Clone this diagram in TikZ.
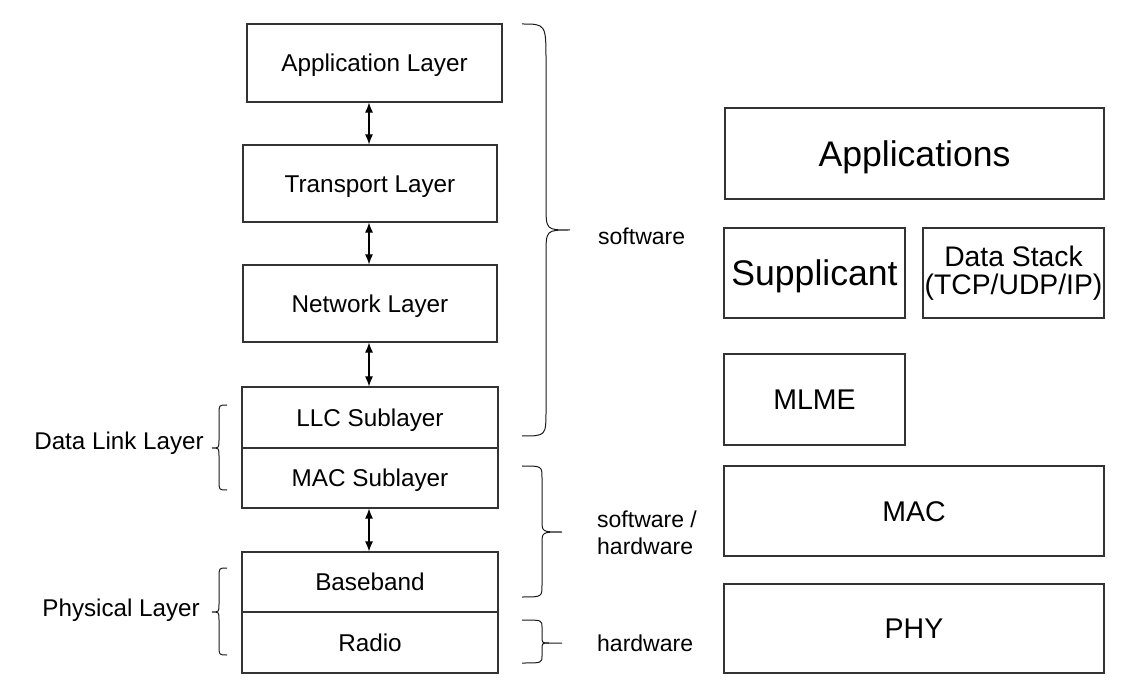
\documentclass[tikz,border=0pt]{standalone}
\usepackage{fontspec}
\setmainfont{Liberation Sans}
\usetikzlibrary{arrows.meta}
\begin{document}
\begin{tikzpicture}[x=1pt,y=-1pt,
  box/.style={draw=black!80,line width=1.2pt,inner sep=0pt,align=center},
  small/.style={font=\fontsize{24.3}{28}\selectfont,text height=17.4pt,text depth=0pt},
  mid/.style={font=\fontsize{28.3}{28.5}\selectfont},
  midc/.style={font=\fontsize{28.5}{28.5}\selectfont,text height=20.4pt,text depth=0pt},
  big/.style={font=\fontsize{35.6}{40}\selectfont,text height=25.5pt,text depth=0pt},
  lbl/.style={inner sep=0pt,align=left,font=\fontsize{23}{27}\selectfont},
  sidel/.style={inner sep=0pt,font=\fontsize{24.2}{28}\selectfont},
  arr/.style={line width=1.1pt,{Latex[length=10pt,width=8pt]}-{Latex[length=10pt,width=8pt]}},
  bracepath/.style={line width=1pt,draw=black!90}]
\useasboundingbox (0,0) rectangle (1141,700);
% left stack
\node[box,small,minimum width=255pt,minimum height=78pt] (app) at (374.5,63) {Application Layer};
\node[box,small,minimum width=254pt,minimum height=77pt] (tr) at (370,183.5) {Transport Layer};
\node[box,small,minimum width=254pt,minimum height=77pt] (net) at (370,303.5) {Network Layer};
\node[box,small,minimum width=256pt,minimum height=61pt] (llc) at (370,417.5) {LLC Sublayer};
\node[box,small,minimum width=256pt,minimum height=60pt] (mac) at (370,478) {MAC Sublayer};
\node[box,small,minimum width=256pt,minimum height=60pt] (bb) at (370,582) {Baseband};
\node[box,small,minimum width=256pt,minimum height=61pt] (radio) at (370,642.5) {Radio};
\coordinate (ax) at (369,0);
\draw[arr] (app.south -| ax) -- (tr.north -| ax);
\draw[arr] (tr.south -| ax) -- (net.north -| ax);
\draw[arr] (net.south -| ax) -- (llc.north -| ax);
\draw[arr] (mac.south -| ax) -- (bb.north -| ax);
% right stack
\node[box,big,minimum width=379pt,minimum height=91pt] (apps) at (914.5,153.5) {Applications};
\node[box,big,minimum width=181pt,minimum height=90pt] (supp) at (814.5,273) {Supplicant};
\node[box,mid,minimum width=181pt,minimum height=90pt] (ds) at (1013.5,273) {Data Stack\\(TCP/UDP/IP)};
\node[box,midc,minimum width=181pt,minimum height=91pt] (mlme) at (814.5,399.5) {MLME};
\node[box,midc,minimum width=380pt,minimum height=90pt] (macr) at (914,511) {MAC};
\node[box,midc,minimum width=380pt,minimum height=89pt] (phy) at (914,628.5) {PHY};
% braces right
\draw[bracepath] (522,24) .. controls (546,24) .. (546,62) -- (546,205) .. controls (546,230) .. (570,230)
  .. controls (546,230) .. (546,255) -- (546,410) .. controls (546,436) .. (522,436);
\draw[bracepath] (522,466) .. controls (542,466) .. (542,478) -- (542,520) .. controls (542,532) .. (562,532)
  .. controls (542,532) .. (542,544) -- (542,585) .. controls (542,597) .. (522,597);
\draw[bracepath] (522,620) .. controls (542,620) .. (542,627) -- (542,636) .. controls (542,643) .. (549,643) -- (562,643);
\draw[bracepath] (549,643) .. controls (542,643) .. (542,650) -- (542,656) .. controls (542,663) .. (522,663);
% braces left
\draw[bracepath] (227,405) .. controls (219,405) .. (219,414) -- (219,440) .. controls (219,448) .. (212,448)
  .. controls (219,448) .. (219,456) -- (219,481) .. controls (219,490) .. (227,490);
\draw[bracepath] (227,568) .. controls (219,568) .. (219,577) -- (219,604) .. controls (219,612) .. (212,612)
  .. controls (219,612) .. (219,620) -- (219,646) .. controls (219,655) .. (227,655);
% labels
\node[sidel,anchor=east] (dll) at (204,443) {Data Link Layer};
\node[sidel,anchor=east] (pl) at (200,610) {Physical Layer};
\node[lbl,anchor=west] (sw) at (598,236) {software};
\node[lbl,anchor=west] (swhw) at (597,533) {software /\\hardware};
\node[lbl,anchor=west] (hw) at (597,643) {hardware};
\end{tikzpicture}
\end{document}
